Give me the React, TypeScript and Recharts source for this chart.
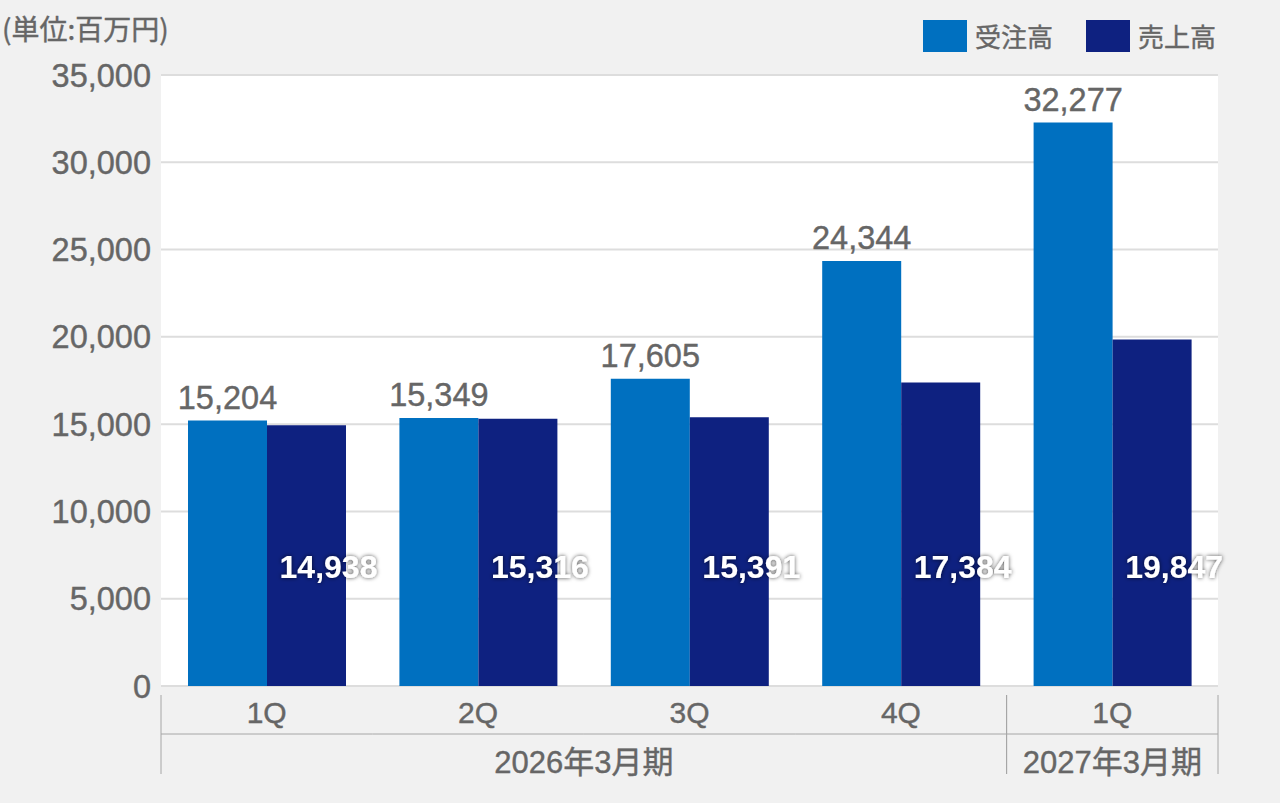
import { BarChart, Bar, XAxis, YAxis, CartesianGrid, Legend, LabelList } from "recharts";

document.body.style.margin = "0";
document.body.style.background = "#f1f1f1";

const quarters = ["1Q", "2Q", "3Q", "4Q", "1Q"];
const fiscalYears = ["2026年3月期", "2026年3月期", "2026年3月期", "2026年3月期", "2027年3月期"];
const orders = [15204, 15349, 17605, 24344, 32277];
const sales = [14938, 15316, 15391, 17384, 19847];
const yTicks = [0, 5000, 10000, 15000, 20000, 25000, 30000, 35000];

const LIGHT = "#0070c0";
const DARK = "#0e2180";
const TEXT = "#666666";
const LINE = "#a6a6a6";
const NUM_FONT = "'Liberation Sans', Arial, sans-serif";
const JP_FONT = "'Noto Sans CJK JP', sans-serif";
const MIX_FONT = "'Liberation Sans', 'Noto Sans CJK JP', sans-serif";

const data = quarters.map((q, i) => ({
  key: `${fiscalYears[i]}-${q}`,
  q,
  fy: fiscalYears[i],
  orders: orders[i],
  sales: sales[i],
}));

const fmt = (v: number) => v.toLocaleString("en-US");

function QuarterTick(props: any) {
  const { x, y, payload, index } = props;
  const half = payload.offset ?? 105.7;
  const band = half * 2;
  const fy = fiscalYears[index];
  const groupStart = index === 0 || fiscalYears[index - 1] !== fy;
  const groupEnd = index === fiscalYears.length - 1 || fiscalYears[index + 1] !== fy;
  const count = fiscalYears.filter((f) => f === fy).length;
  const left = x - half;
  const right = x + half;
  return (
    <g>
      <text
        x={x}
        y={y + 29}
        textAnchor="middle"
        fill={TEXT}
        stroke={TEXT}
        strokeWidth={0.4}
        fontSize={30}
        fontFamily={NUM_FONT}
      >
        {quarters[index]}
      </text>
      <line x1={left} x2={right} y1={y + 40} y2={y + 40} stroke={LINE} strokeWidth={1} />
      {groupStart && <line x1={left} x2={left} y1={y + 1} y2={y + 80} stroke={LINE} strokeWidth={1} />}
      {groupEnd && <line x1={right} x2={right} y1={y + 1} y2={y + 80} stroke={LINE} strokeWidth={1} />}
      {groupStart && (
        <text
          x={left + (count * band) / 2}
          y={y + 79}
          textAnchor="middle"
          fill={TEXT}
          stroke={TEXT}
          strokeWidth={0.4}
          fontSize={31}
          fontFamily={MIX_FONT}
        >
          {fy}
        </text>
      )}
    </g>
  );
}

function SalesLabel(props: any) {
  const { x, y, width, height, value } = props;
  const base = y + height;
  return (
    <text
      x={x + width / 2 + 22}
      y={base - 108}
      textAnchor="middle"
      fill="#ffffff"
      fontSize={32}
      fontWeight="bold"
      fontFamily={NUM_FONT}
      filter="url(#labelGlow)"
    >
      {fmt(value)}
    </text>
  );
}

function LegendContent() {
  const items = [
    { name: "受注高", color: LIGHT },
    { name: "売上高", color: DARK },
  ];
  return (
    <div style={{ display: "flex", gap: 33, fontFamily: JP_FONT, fontSize: 26, color: TEXT }}>
      {items.map((it) => (
        <div key={it.name} style={{ display: "flex", alignItems: "center" }}>
          <span style={{ width: 44, height: 32, background: it.color, display: "inline-block", marginRight: 8 }} />
          <span style={{ lineHeight: "32px", WebkitTextStroke: "0.4px #666" }}>{it.name}</span>
        </div>
      ))}
    </div>
  );
}

export default function App() {
  return (
    <div style={{ position: "relative", width: 1280, height: 803, background: "#f1f1f1" }}>
      <svg width={0} height={0} style={{ position: "absolute" }}>
        <defs>
          <filter id="labelGlow" x="-20%" y="-40%" width="140%" height="180%">
            <feDropShadow dx={0} dy={0} stdDeviation={2} floodColor="#000" floodOpacity={0.7} />
          </filter>
        </defs>
      </svg>
      <div
        style={{
          position: "absolute",
          left: 2,
          top: 8,
          fontFamily: JP_FONT,
          fontSize: 28,
          color: TEXT,
          WebkitTextStroke: "0.4px #666",
          zIndex: 2,
        }}
      >
        (単位:百万円)
      </div>
      <BarChart
        width={1280}
        height={803}
        data={data}
        margin={{ top: 75, right: 62, left: 0, bottom: 0 }}
        barCategoryGap={27}
        barGap={0}
      >
        <CartesianGrid vertical={false} stroke="#dddddd" strokeWidth={2} fill="#ffffff" />
        <XAxis
          dataKey="key"
          height={117}
          tickLine={false}
          axisLine={false}
          interval={0}
          tick={<QuarterTick />}
        />
        <YAxis
          width={161}
          domain={[0, 35000]}
          ticks={yTicks}
          tickLine={false}
          axisLine={false}
          tickMargin={4}
          tickFormatter={fmt}
          tick={{ fill: TEXT, stroke: TEXT, strokeWidth: 0.4, fontSize: 32.5, fontFamily: NUM_FONT }}
        />
        <Legend
          layout="horizontal"
          verticalAlign="middle"
          align="center"
          wrapperStyle={{ top: 20, left: 923, width: "auto" }}
          content={<LegendContent />}
        />
        <Bar dataKey="orders" name="受注高" fill={LIGHT} isAnimationActive={false}>
          <LabelList
            dataKey="orders"
            position="top"
            offset={12}
            formatter={fmt}
            fill={TEXT}
            stroke={TEXT}
            strokeWidth={0.4}
            fontSize={32.5}
            fontFamily={NUM_FONT}
          />
        </Bar>
        <Bar dataKey="sales" name="売上高" fill={DARK} isAnimationActive={false}>
          <LabelList dataKey="sales" content={<SalesLabel />} />
        </Bar>
      </BarChart>
    </div>
  );
}
